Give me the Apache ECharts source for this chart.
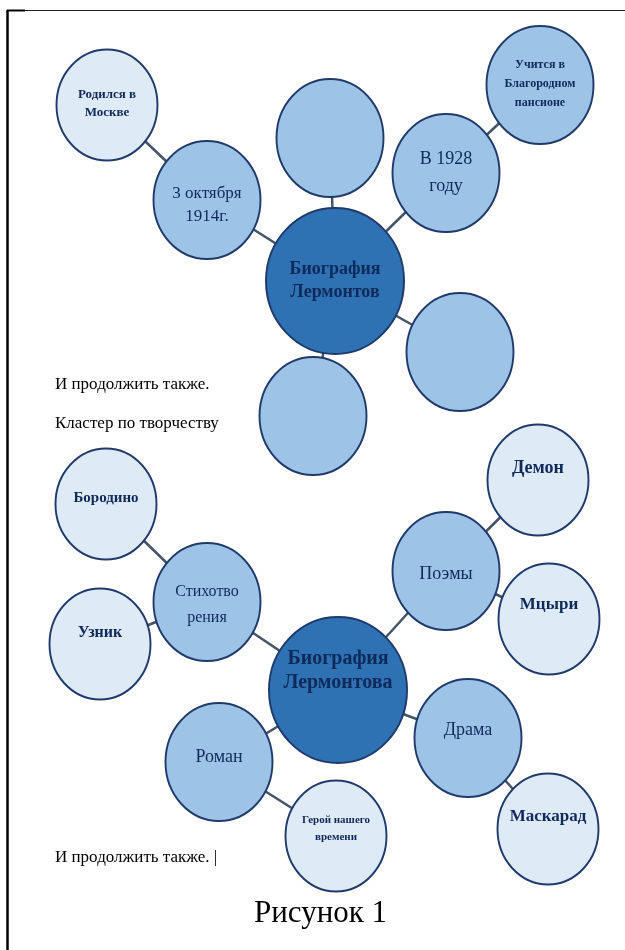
<!DOCTYPE html>
<html>
<head>
<meta charset="utf-8">
<script src="https://cdn.jsdelivr.net/npm/echarts@6/dist/echarts.min.js"></script>
<style>
html,body{margin:0;padding:0;background:#fff;}
#chart{width:625px;height:950px;}
</style>
</head>
<body>
<div id="chart"></div>
<script>
// ---- data: the two cluster diagrams ----
const nodeLabels = [
  'Биография\nЛермонтов', '3 октября\n1914г.', 'Родился в\nМоскве', '',
  'В 1928\nгоду', 'Учится в\nБлагородном\nпансионе', '', '',
  'Биография\nЛермонтова', 'Стихотво\nрения', 'Бородино', 'Узник',
  'Поэмы', 'Демон', 'Мцыри', 'Драма', 'Маскарад', 'Роман', 'Герой нашего\nвремени'
];
const nodeX = [335, 207, 107, 330, 446, 540, 460, 313, 338, 207, 106, 100, 446, 538, 549, 468, 548, 219, 336];
const nodeY = [281, 200, 105, 138, 173, 85, 352, 416, 690, 602, 504, 644, 571, 480, 619, 738, 829, 762, 836];
const nodeTier = [0, 1, 2, 1, 1, 1, 1, 1, 0, 1, 2, 2, 1, 2, 2, 1, 2, 1, 2];
const linkFrom = [0, 1, 0, 0, 4, 0, 0, 8, 9, 9, 8, 12, 12, 8, 15, 8, 17];
const linkTo   = [1, 2, 3, 4, 5, 6, 7, 9, 10, 11, 12, 13, 14, 15, 16, 17, 18];
const notes = ['И продолжить также.', 'Кластер по творчеству', 'И продолжить также. |'];
const caption = 'Рисунок 1';

// ---- styles ----
const tierFill = ['#2E72B4', '#9DC3E6', '#DEEAF6'];
const tierSize = [[138, 146], [107, 118], [101, 111]];
const labelFont = [18, 17, 13, 16, 18, 12, 16, 16, 20, 16, 15, 16, 18, 18, 17, 18, 17, 18, 11];
const labelBold = [1, 0, 1, 0, 0, 1, 0, 0, 1, 0, 1, 1, 0, 1, 1, 0, 1, 0, 1];
const labelLH = [23, 23, 18, 20, 27, 19, 20, 20, 24, 26, 18, 18, 20, 20, 20, 20, 20, 20, 17];
const labelShift = [0, 5, -1, 0, 0, -1, 0, 0, -19, 3, -6, -11, 3, -12, -14, -8, -12, -5, -7];

const nodes = nodeLabels.map((t, i) => ({
  name: 'n' + i,
  value: [nodeX[i], nodeY[i]],
  symbolSize: tierSize[nodeTier[i]],
  itemStyle: { color: tierFill[nodeTier[i]], borderColor: '#1F3A6B', borderWidth: 2 },
  label: {
    show: t !== '',
    formatter: t,
    position: 'inside',
    offset: [0, labelShift[i]],
    color: '#0F2A5A',
    fontSize: labelFont[i],
    lineHeight: labelLH[i],
    fontWeight: labelBold[i] ? 'bold' : 'normal',
    fontFamily: '"Liberation Serif", "Times New Roman", serif'
  }
}));
const links = linkFrom.map((s, i) => ({ source: s, target: linkTo[i] }));

const chart = echarts.init(document.getElementById('chart'));
chart.setOption({
  animation: false,
  backgroundColor: '#fff',
  grid: { left: 0, right: 0, top: 0, bottom: 0 },
  xAxis: { type: 'value', min: 0, max: 625, show: false },
  yAxis: { type: 'value', min: 0, max: 950, inverse: true, show: false },
  series: [{
    type: 'graph',
    coordinateSystem: 'cartesian2d',
    layout: 'none',
    symbol: 'circle',
    data: nodes,
    links: links,
    lineStyle: { color: '#44546A', width: 2.5, opacity: 1, curveness: 0 },
    emphasis: { disabled: true }
  }],
  graphic: [
    { type: 'line', shape: { x1: 7.5, y1: 10, x2: 7.5, y2: 950 }, style: { stroke: '#000', lineWidth: 2.5 } },
    { type: 'line', shape: { x1: 7, y1: 10.5, x2: 625, y2: 10.5 }, style: { stroke: '#222', lineWidth: 1 } },
    { type: 'line', shape: { x1: 7, y1: 10.5, x2: 25, y2: 10.5 }, style: { stroke: '#000', lineWidth: 2 } },
    { type: 'text', left: 55, top: 376, style: { text: notes[0], font: '17px "Liberation Serif", serif', fill: '#000' } },
    { type: 'text', left: 55, top: 415, style: { text: notes[1], font: '17px "Liberation Serif", serif', fill: '#000' } },
    { type: 'text', left: 55, top: 849, style: { text: notes[2], font: '17px "Liberation Serif", serif', fill: '#000' } },
    { type: 'text', left: 254, top: 898, style: { text: caption, font: '31px "Liberation Serif", serif', fill: '#000' } }
  ]
});
</script>
</body>
</html>
